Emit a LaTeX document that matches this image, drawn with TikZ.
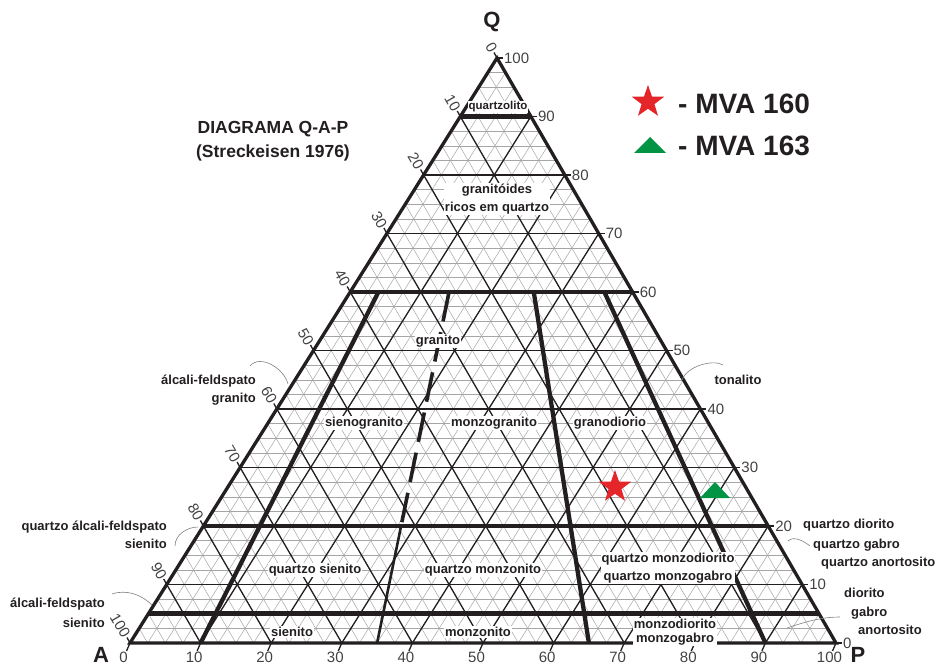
\documentclass[tikz,border=0pt]{standalone}
\usepackage{fontspec}
\setmainfont{Liberation Sans}
\usetikzlibrary{calc, shapes.geometric}
\definecolor{ink}{RGB}{35,31,32}
\definecolor{mvared}{RGB}{228,38,42}
\definecolor{mvagreen}{RGB}{0,148,68}
\tikzset{>=stealth}

\begin{document}
\begin{tikzpicture}[x=1pt, y=-1pt,
  rim/.style={line width=3.3pt, ink, line join=miter},
  field/.style={line width=4.6pt, ink},
  split/.style={line width=4.3pt, ink},
  deca/.style={line width=1.3pt, ink},
  fine/.style={line width=0.5pt, gray!70},
  rock/.style={font=\bfseries\fontsize{13}{16}\selectfont, text=ink, fill=white, inner sep=1pt, align=center},
  outside/.style={font=\bfseries\fontsize{13}{18}\selectfont, text=ink, inner sep=1pt},
  num/.style={font=\fontsize{15}{15}\selectfont, text=ink!85, inner sep=0.5pt},
  leader/.style={gray, line width=0.6pt},
  corner/.style={font=\bfseries\fontsize{22}{22}\selectfont, text=ink},
  legend/.style={font=\bfseries\fontsize{28}{28}\selectfont, text=ink, anchor=west, inner sep=0pt}]
\useasboundingbox (0,0) rectangle (937,668);
\coordinate (A) at (130,643);
\coordinate (P) at (836,643);
\coordinate (Q) at (497,58);

% grade fina (2,5 %)
\foreach \i [evaluate=\i as \f using \i/40] in {1,...,39}{
  \draw[fine] ($(A)!\f!(Q)$) -- ($(P)!\f!(Q)$);
  \draw[fine] ($(A)!\f!(P)$) -- ($(Q)!\f!(P)$);
  \draw[fine] ($(P)!\f!(A)$) -- ($(Q)!\f!(A)$);
}
% linhas de 10 %
\foreach \i [evaluate=\i as \f using \i/10] in {1,...,9}{
  \draw[deca] ($(A)!\f!(Q)$) -- ($(P)!\f!(Q)$);
  \draw[deca] ($(A)!\f!(P)$) -- ($(Q)!\f!(P)$);
  \draw[deca] ($(P)!\f!(A)$) -- ($(Q)!\f!(A)$);
}
% campos
\foreach \q in {0.05,0.2,0.6,0.9}
  \draw[field] ($(A)!\q!(Q)$) -- ($(P)!\q!(Q)$);
\coordinate (r10) at ($(A)!0.10!(P)$);
\coordinate (r35) at ($(A)!0.35!(P)$);
\coordinate (r65) at ($(A)!0.65!(P)$);
\coordinate (r90) at ($(A)!0.90!(P)$);
\foreach \r in {r10,r65,r90}
  \draw[split] ($(\r)!0.6!(Q)$) -- (\r);
\draw[split, line width=3.6pt, dash pattern=on 30pt off 11pt] ($(r35)!0.6!(Q)$) -- ($(r35)!0.2!(Q)$);
\draw[split, line width=2.6pt] ($(r35)!0.2!(Q)$) -- (r35);
\draw[rim] (A) -- (P) -- (Q) -- cycle;

% escalas
\foreach \v in {0,10,...,100}{
  \draw[deca] ($(P)!\v/100!(Q)$) -- ++(6,0) node[num, anchor=west] {\v};
  \draw[deca] ($(Q)!\v/100!(A)$) -- ++(-3,-5.5) node[num, rotate=-60, anchor=east] {\v};
  \draw[deca] ($(A)!\v/100!(P)$) -- ++(-3.5,8) node[num, anchor=north, xshift=-3pt] {\v};
}
\node[corner] (lq) at (492,22) {Q};
\node[corner] (la) at (101,655) {A};
\node[corner] (lp) at (858,655) {P};

% nomes das rochas
\node[rock, font=\bfseries\fontsize{11.5}{12}\selectfont, inner sep=0.5pt] (qzl) at (498,107) {quartzolito};
\node[rock, font=\bfseries\fontsize{13}{18}\selectfont] (grq) at (497,199) {granitóides\\ricos em quartzo};
\node[rock] (gra) at (438,341) {granito};
\node[rock] (sgr) at (364,423) {sienogranito};
\node[rock] (mgr) at (494,423) {monzogranito};
\node[rock] (gdi) at (610,423) {granodiorio};
\node[rock] (qsi) at (315,570) {quartzo sienito};
\node[rock] (qmz) at (483,570) {quartzo monzonito};
\node[rock, font=\bfseries\fontsize{13}{18}\selectfont] (qmd) at (668,568) {quartzo monzodiorito\\quartzo monzogabro};
\node[rock] (sie) at (292,632) {sienito};
\node[rock] (mzn) at (478,632) {monzonito};
\node[rock, font=\bfseries\fontsize{13}{14}\selectfont] (mzd) at (675,632) {monzodiorito\\monzogabro};

\node[outside, anchor=east, align=right] (afg) at (257,390) {álcali-feldspato\\granito};
\node[outside] (ton) at (738,380) {tonalito};
\node[outside, anchor=east, align=right] (qaf) at (168,535) {quartzo álcali-feldspato\\sienito};
\node[outside, anchor=west] (qdi) at (802,525) {quartzo diorito};
\node[outside, anchor=west] (qgb) at (812,545) {quartzo gabro};
\node[outside, anchor=west] (qan) at (820,563) {quartzo anortosito};
\node[outside, anchor=west] (dio) at (843,593) {diorito};
\node[outside, anchor=west] (gab) at (850,613) {gabro};
\node[outside, anchor=west] (ano) at (857,630) {anortosito};
\node[outside, anchor=east, align=right, font=\bfseries\fontsize{13}{20}\selectfont] (afs) at (106,613) {álcali-feldspato\\sienito};

% linhas de chamada
\coordinate (afgin) at (288,384);
\coordinate (tonin) at (682,380);
\coordinate (qafin) at (198,527);
\coordinate (qdiin) at (788,541);
\coordinate (dioin) at (787,628);
\coordinate (afsin) at (152,605);
\draw[leader] (250,366) .. controls +(10,-12) and +(-4,-16) .. (afgin);
\draw[leader] (tonin) .. controls +(5,-14) and +(-10,-6) .. (723,365);
\draw[leader] (175,546) .. controls +(0,-12) and +(-10,0) .. (qafin);
\draw[leader] (qdiin) .. controls +(6,-6) and +(-5,-4) .. (810,546);
\draw[leader] (840,617) .. controls +(-20,0) and +(15,-5) .. (dioin);
\draw[leader] (112,594) .. controls +(15,-5) and +(-10,-10) .. (afsin);

% titulo e legenda
\node[font=\bfseries\fontsize{17.5}{24}\selectfont, text=ink, align=center] (tit) at (273,141) {DIAGRAMA Q-A-P\\(Streckeisen 1976)};
\node[star, star points=5, star point ratio=2.5, fill=mvared, minimum size=34pt, inner sep=0pt] (s160) at (648,102) {};
\node[legend] (l160) at (678,104) {- MVA 160};
\coordinate (t163) at (650,146);
\fill[mvagreen] ($(t163)+(-16,7)$) -- ($(t163)+(16,7)$) -- ($(t163)+(0,-9)$) -- cycle;
\node[legend] (l163) at (678,146) {- MVA 163};

% amostras
\node[star, star points=5, star point ratio=2.5, fill=mvared, minimum size=34pt, inner sep=0pt] (m160) at (615,487) {};
\coordinate (m163) at (715,491);
\fill[mvagreen] ($(m163)+(-15,7)$) -- ($(m163)+(15,7)$) -- ($(m163)+(0,-9)$) -- cycle;
\end{tikzpicture}
\end{document}
